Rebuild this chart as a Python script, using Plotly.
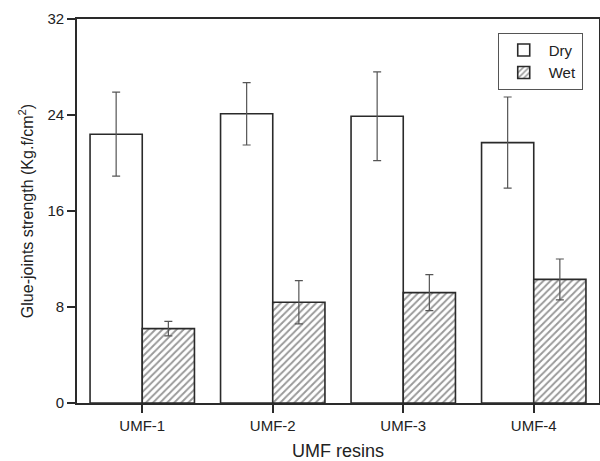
import plotly.graph_objects as go

categories = ["UMF-1", "UMF-2", "UMF-3", "UMF-4"]
dry_values = [22.4, 24.1, 23.9, 21.7]
dry_errors = [3.5, 2.6, 3.7, 3.8]
wet_values = [6.2, 8.4, 9.2, 10.3]
wet_errors = [0.6, 1.8, 1.5, 1.7]
y_ticks = [0, 8, 16, 24, 32]

FONT = "Liberation Sans, Arial, sans-serif"
LINE = "#2a2a2a"

fig = go.Figure()
fig.add_trace(go.Bar(
    name="Dry", x=categories, y=dry_values,
    marker=dict(color="white", line=dict(color=LINE, width=1.6)),
    error_y=dict(type="data", array=dry_errors, color="#555555", thickness=1.2, width=4),
))
fig.add_trace(go.Bar(
    name="Wet", x=categories, y=wet_values,
    marker=dict(color="white", line=dict(color=LINE, width=1.6),
                pattern=dict(shape="/", fgcolor="#333333", bgcolor="white", size=5, solidity=0.38)),
    error_y=dict(type="data", array=wet_errors, color="#555555", thickness=1.2, width=4),
))

fig.update_layout(
    width=600, height=461,
    margin=dict(l=77, r=1, t=19, b=58, autoexpand=False),
    plot_bgcolor="white", paper_bgcolor="white",
    barmode="group", bargap=0.2, bargroupgap=0,
    font=dict(family=FONT, size=15, color="#222222"),
    showlegend=True,
    legend=dict(x=0.806, y=0.964, xanchor="left", yanchor="top",
                bordercolor="#555555", borderwidth=1, bgcolor="white",
                font=dict(size=15, family=FONT), itemwidth=40,
                tracegroupgap=0),
    xaxis=dict(
        title=dict(text="UMF resins", font=dict(size=18, family=FONT), standoff=12),
        showline=True, mirror=True, linecolor=LINE, linewidth=1.6,
        ticks="outside", ticklen=8, tickcolor=LINE, tickwidth=1.5,
        showgrid=False, range=[-0.5, 3.5], automargin=False,
        tickfont=dict(size=15),
    ),
    yaxis=dict(
        title=dict(text="Glue-joints strength (Kg.f/cm<sup>2</sup>)", font=dict(size=16, family=FONT), standoff=10),
        showline=True, mirror=True, linecolor=LINE, linewidth=1.6,
        ticks="outside", ticklen=8, tickcolor=LINE, tickwidth=1.5,
        showgrid=False, zeroline=False, range=[0, 32], tickvals=y_ticks,
        automargin=False, tickfont=dict(size=15),
    ),
)

fig.write_html("out.html", config={"displayModeBar": False},
               post_script="document.body.style.margin='0';document.body.style.overflow='hidden';")
